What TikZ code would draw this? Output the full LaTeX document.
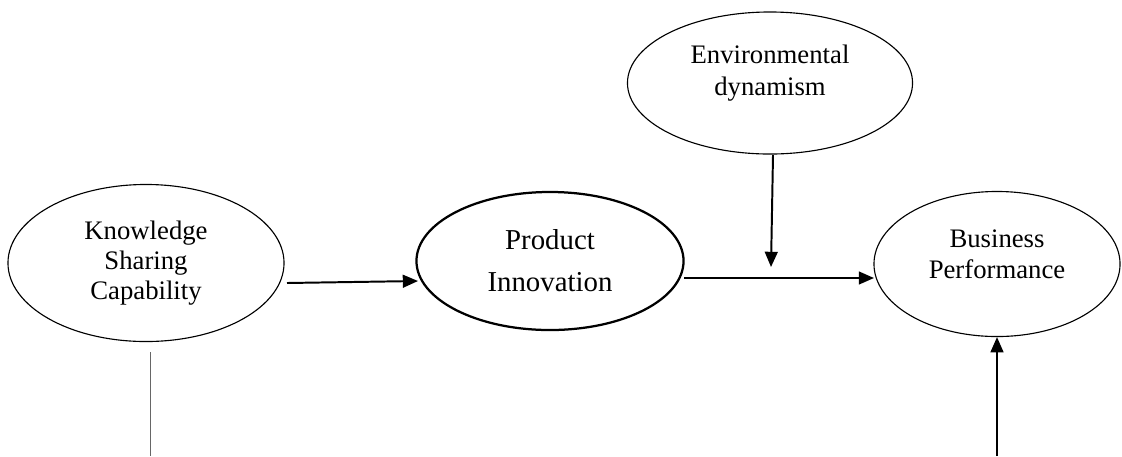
\documentclass[tikz,border=0pt]{standalone}
\usepackage{fontspec}
\setmainfont{Liberation Serif}
\usetikzlibrary{shapes.geometric,arrows.meta}

\tikzstyle{construct} = [ellipse,draw,line width=0.8pt,inner sep=0pt,align=center,font=\fontsize{19}{21.5}\selectfont]
\tikzstyle{raised} = [align=center,font=\fontsize{19}{22.5}\selectfont,yshift=0.24cm]
\tikzstyle{fil} = [-{Triangle[length=0.38cm,width=0.32cm]},style={line width=1.4pt}]

\begin{document}
\begin{tikzpicture}[x=0.025cm, y=-0.025cm]
	\useasboundingbox (0,0) rectangle (1122,456);

% Constructs
	\node[construct, minimum width=6.9cm, minimum height=3.925cm] at (146,263) (ksc) {Knowledge\\Sharing\\Capability};
	\node[construct, minimum width=6.675cm, minimum height=3.45cm, line width=1.6pt, font=\fontsize{20.5}{30}\selectfont] at (550,261) (pi) {Product\\Innovation};
	\node[construct, minimum width=7.125cm, minimum height=3.55cm, label={[raised]center:Environmental\\dynamism}] at (770,83) (ed) {};
	\node[construct, minimum width=6.15cm, minimum height=3.625cm, label={[raised]center:Business\\Performance}] at (997,264) (bp) {};

% Loose ends
	\coordinate (kscout) at (287,283);
	\coordinate (piin) at (418,281);
	\coordinate (piout) at (684,278);
	\coordinate (bpin) at (874,278);
	\coordinate (edout) at (773,155);
	\coordinate (mod) at (771,267);
	\coordinate (kscdown) at (150,352);
	\coordinate (kscend) at (150,456);
	\coordinate (ctrl) at (997,456);

% Paths
	\draw[fil] (kscout) -- (piin);
	\draw[fil] (piout) -- (bpin);
	\draw[fil] (edout) -- (mod);
	\draw[fil] (ctrl) -- (bp.south);
	\draw[gray!80!black, line width=0.7pt] (kscdown) -- (kscend);

\end{tikzpicture}
\end{document}
